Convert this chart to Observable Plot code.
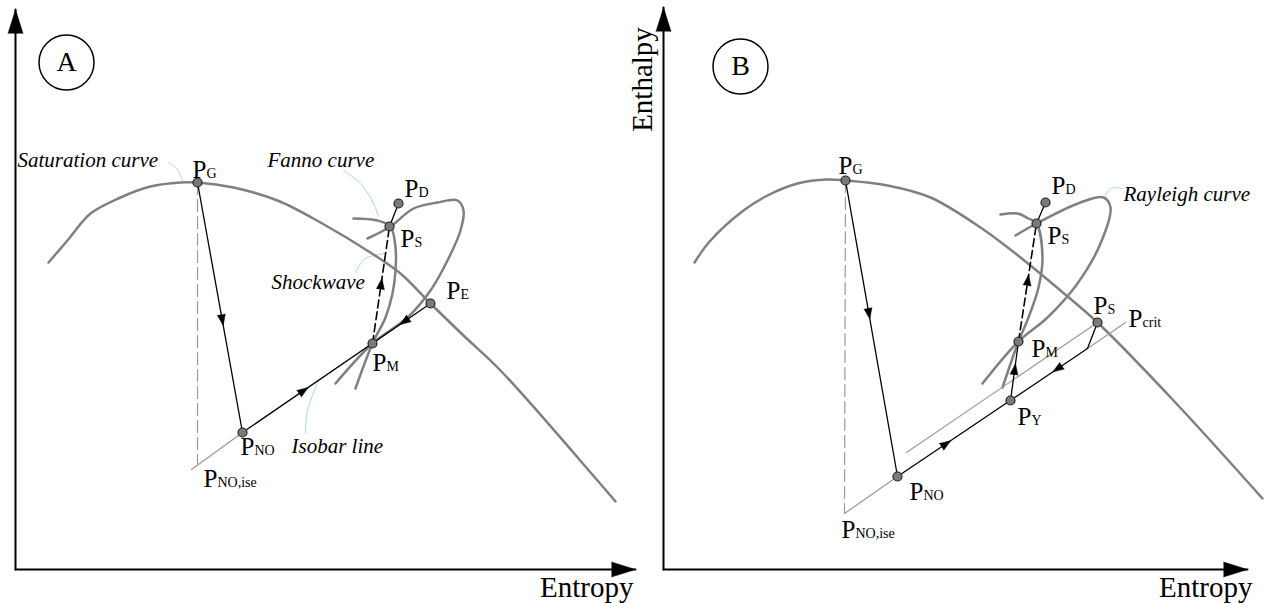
<!DOCTYPE html>
<html>
<head>
<meta charset="utf-8">
<script src="https://cdn.jsdelivr.net/npm/d3@7"></script>
<script src="https://cdn.jsdelivr.net/npm/@observablehq/plot@0.6"></script>
<style>
  body { margin: 0; background: #fff; }
  #chart { position: relative; width: 1266px; height: 603px; overflow: hidden; background: #fff; }
  #chart > div { position: absolute; top: 0; }
</style>
</head>
<body>
<div id="chart"><div id="panelA"></div><div id="panelB"></div></div>
<script>
// Two schematic enthalpy–entropy (h–s) diagrams, in arbitrary units.
// Each [s, h] pair is an (entropy, enthalpy) reading.

// ---------- Panel A: Fanno curve ----------
const saturationA = [[33,307],[52,329],[75,356],[105,372],[135,383],[165,387],[182,387],[218,382],[262,369],[305,347],[358,315],[385,296],[415,266],[448,234],[485,199],[582,89],[600,68]];
const fannoA = [[338,351],[362,349],[375,343],[380,322],[380,299],[377,276],[370,252],[357,226],[340,181]];
const loopA = [[352,331],[375,343],[398,361],[422,367],[442,369],[448,359],[445,339],[432,309],[415,279],[392,252],[357,226],[320,186]];
const statesA = [
  {name: "G", s: 182, h: 387},
  {name: "NO", s: 227, h: 137},
  {name: "NOise", s: 182, h: 106},
  {name: "isoStart", s: 176, h: 100},
  {name: "M", s: 357, h: 226},
  {name: "E", s: 415, h: 266},
  {name: "S", s: 374, h: 343},
  {name: "D", s: 383, h: 366}
];
const dotsA = ["G", "NO", "M", "E", "S", "D"];
const solidA = [["G","NO"],["NO","E"],["S","D"]];
const dashedA = [["M","S"]];
const isobarA = [["isoStart","NO"]];
const verticalA = [["G","NOise"]];
const flowA = [["G","NO",0.55],["NO","M",0.47],["E","M",0.45],["M","S",0.51]];
const stateLabelsA = [
  {sub: "G", s: 177, h: 392}, {sub: "D", s: 389, h: 373}, {sub: "S", s: 385, h: 323},
  {sub: "E", s: 431, h: 271}, {sub: "M", s: 357, h: 199}, {sub: "NO", s: 225, h: 115},
  {sub: "NO,ise", s: 188, h: 83}
];
const curveLabelsA = [
  {text: "Saturation curve", s: 2, h: 403},
  {text: "Fanno curve", s: 252, h: 403},
  {text: "Shockwave", s: 256, h: 281},
  {text: "Isobar line", s: 276, h: 117}
];
const leadersA = [
  [[153,407],[161,401],[167,389]],
  [[328,399],[345,386],[358,366],[363,353]],
  [[340,297],[350,311],[370,316]],
  [[290,136],[292,159],[303,189]]
];
const badgeA = {text: "A", s: 51, h: 507};
const axesA = {sMax: 620, hMax: 560};

// ---------- Panel B: Rayleigh curve ----------
const saturationB = [[31,307],[47,329],[80,359],[104,374],[134,386],[164,390],[182,389],[224,384],[267,372],[317,342],[357,312],[397,279],[434,247],[510,169],[599,71]];
const fannoB = [[337,355],[354,356],[365,351],[373,346],[379,312],[375,282],[365,252],[355,228],[339,182]];
const loopB = [[352,334],[373,346],[417,367],[440,372],[447,362],[437,326],[414,286],[384,252],[355,228],[319,186]];
const statesB = [
  {name: "G", s: 182, h: 389},
  {name: "NO", s: 234, h: 93},
  {name: "NOise", s: 181, h: 56},
  {name: "Y", s: 347, h: 169},
  {name: "M", s: 355, h: 228},
  {name: "S", s: 373, h: 346},
  {name: "D", s: 382, h: 367},
  {name: "S2", s: 434, h: 247},
  {name: "K", s: 424, h: 221},
  {name: "crit", s: 462, h: 247},
  {name: "isoStart", s: 243, h: 117}
];
const dotsB = ["G", "NO", "Y", "M", "S", "D", "S2"];
const solidB = [["G","NO"],["NO","K"],["K","S2"],["Y","M"],["S","D"]];
const dashedB = [["M","S"]];
const isobarB = [["NOise","NO"],["K","crit"],["isoStart","S2"]];
const verticalB = [["G","NOise"]];
const flowB = [["G","NO",0.45],["NO","Y",0.43],["K","Y",0.39],["Y","M",0.53],["M","S",0.52]];
const stateLabelsB = [
  {sub: "G", s: 175, h: 396}, {sub: "D", s: 388, h: 376}, {sub: "S", s: 384, h: 326},
  {sub: "M", s: 368, h: 213}, {sub: "Y", s: 354, h: 145}, {sub: "S", s: 430, h: 256},
  {sub: "crit", s: 465, h: 243}, {sub: "NO", s: 246, h: 70}, {sub: "NO,ise", s: 178, h: 32}
];
const curveLabelsB = [
  {text: "Rayleigh curve", s: 460, h: 369}
];
const leadersB = [
  [[460,381],[447,381],[441,372]]
];
const badgeB = {text: "B", s: 77, h: 503};
const axesB = {sMax: 584, hMax: 562};

const sAxisLabel = "Entropy";
const hAxisLabel = "Enthalpy";

const serif = "'Liberation Serif', 'Times New Roman', serif";
const GRAY = "#808080";
const THIN = "#9a9a9a";
const LEADER = "#a9d7e8";

function panel(cfg) {
  const P = Object.fromEntries(cfg.states.map(d => [d.name, d]));
  const segments = pairs => pairs.flatMap(([a, b], i) => [{...P[a], k: i}, {...P[b], k: i}]);
  const flow = cfg.flow.map(([a, b, t]) => {
    const A = P[a], B = P[b];
    return {
      s: A.s + (B.s - A.s) * t,
      h: A.h + (B.h - A.h) * t,
      angle: Math.atan2(B.s - A.s, B.h - A.h) * 180 / Math.PI
    };
  });
  const leaders = cfg.leaders.flatMap((pts, i) => pts.map(([s, h]) => ({s, h, k: i})));
  const axisLines = [{s: 0, h: 0, k: 0}, {s: 0, h: cfg.axes.hMax, k: 0}, {s: 0, h: 0, k: 1}, {s: cfg.axes.sMax, h: 0, k: 1}];
  const axisTips = [{s: 0, h: cfg.axes.hMax, angle: 0}, {s: cfg.axes.sMax, h: 0, angle: 90}];
  const dots = cfg.dots.map(n => P[n]);

  const marks = [
    // leader lines for the curve names
    Plot.line(leaders, {x: "s", y: "h", z: "k", stroke: LEADER, strokeWidth: 1, curve: "catmull-rom"}),
    // saturation dome and the two process curves
    Plot.line(cfg.saturation, {stroke: GRAY, strokeWidth: 2.5, curve: "catmull-rom"}),
    Plot.line(cfg.fanno, {stroke: GRAY, strokeWidth: 2.5, curve: "catmull-rom"}),
    Plot.line(cfg.loop, {stroke: GRAY, strokeWidth: 2.5, curve: "catmull-rom"}),
    // isobars and the isentropic drop
    Plot.line(segments(cfg.isobar), {x: "s", y: "h", z: "k", stroke: THIN, strokeWidth: 1.2}),
    Plot.line(segments(cfg.vertical), {x: "s", y: "h", z: "k", stroke: THIN, strokeWidth: 1.2, strokeDasharray: "12,5"}),
    // process paths
    Plot.line(segments(cfg.solid), {x: "s", y: "h", z: "k", stroke: "#000", strokeWidth: 1.3}),
    Plot.line(segments(cfg.dashed), {x: "s", y: "h", z: "k", stroke: "#000", strokeWidth: 1.6, strokeDasharray: "8,4"}),
    Plot.vector(flow, {x: "s", y: "h", rotate: "angle", length: 11, r: 4, shape: "spike", anchor: "middle", fill: "#000", stroke: "#000", strokeWidth: 0.5}),
    // state points
    Plot.dot(dots, {x: "s", y: "h", r: 4.5, fill: "#7a7a7a", stroke: "#222", strokeWidth: 1.2}),
    Plot.text(cfg.stateLabels, {x: "s", y: "h", text: () => "P", textAnchor: "start", lineAnchor: "bottom", fontSize: 25, fontFamily: serif, fill: "#000"}),
    Plot.text(cfg.stateLabels, {x: "s", y: "h", text: "sub", dx: 14, textAnchor: "start", lineAnchor: "bottom", fontSize: 14, fontFamily: serif, fill: "#000"}),
    Plot.text(cfg.curveLabels, {x: "s", y: "h", text: "text", textAnchor: "start", lineAnchor: "bottom", fontSize: 21, fontStyle: "italic", fontFamily: serif, fill: "#000"}),
    // panel badge
    Plot.dot([cfg.badge], {x: "s", y: "h", r: 27.5, fill: "none", stroke: "#000", strokeWidth: 1.5}),
    Plot.text([cfg.badge], {x: "s", y: "h", text: "text", fontSize: 28, fontFamily: serif, fill: "#000", lineAnchor: "middle"}),
    // axes with filled arrowheads
    Plot.line(axisLines, {x: "s", y: "h", z: "k", stroke: "#000", strokeWidth: 2}),
    Plot.vector(axisTips, {x: "s", y: "h", rotate: "angle", length: 24, r: 7.5, shape: "spike", anchor: "end", fill: "#000", stroke: "#000", strokeWidth: 0.5}),
    Plot.text([{s: cfg.axes.sMax + cfg.sLabelShift, h: -27}], {x: "s", y: "h", text: () => sAxisLabel, textAnchor: "end", lineAnchor: "bottom", fontSize: 29, fontFamily: serif, fill: "#000"})
  ];
  if (cfg.hLabel) {
    marks.push(Plot.text([{s: -21, h: 490}], {x: "s", y: "h", text: () => hAxisLabel, rotate: -90, textAnchor: "middle", lineAnchor: "middle", fontSize: 29, fontFamily: serif, fill: "#000"}));
  }

  return Plot.plot({
    width: cfg.width,
    height: 603,
    margin: 0,
    style: {background: "transparent", overflow: "visible"},
    x: {domain: [0, 640], range: [cfg.originX, cfg.originX + 640], axis: null},
    y: {domain: [0, 569], range: [569, 0], axis: null},
    marks
  });
}

const a = panel({
  width: 660, originX: 15,
  saturation: saturationA, fanno: fannoA, loop: loopA, states: statesA, dots: dotsA,
  solid: solidA, dashed: dashedA, isobar: isobarA, vertical: verticalA, flow: flowA,
  stateLabels: stateLabelsA, curveLabels: curveLabelsA, leaders: leadersA,
  badge: badgeA, axes: axesA, sLabelShift: -2, hLabel: false
});
const b = panel({
  width: 666, originX: 63,
  saturation: saturationB, fanno: fannoB, loop: loopB, states: statesB, dots: dotsB,
  solid: solidB, dashed: dashedB, isobar: isobarB, vertical: verticalB, flow: flowB,
  stateLabels: stateLabelsB, curveLabels: curveLabelsB, leaders: leadersB,
  badge: badgeB, axes: axesB, sLabelShift: 5, hLabel: true
});
document.getElementById("panelA").style.left = "0px";
document.getElementById("panelB").style.left = "600px";
document.getElementById("panelA").append(a);
document.getElementById("panelB").append(b);
</script>
</body>
</html>
